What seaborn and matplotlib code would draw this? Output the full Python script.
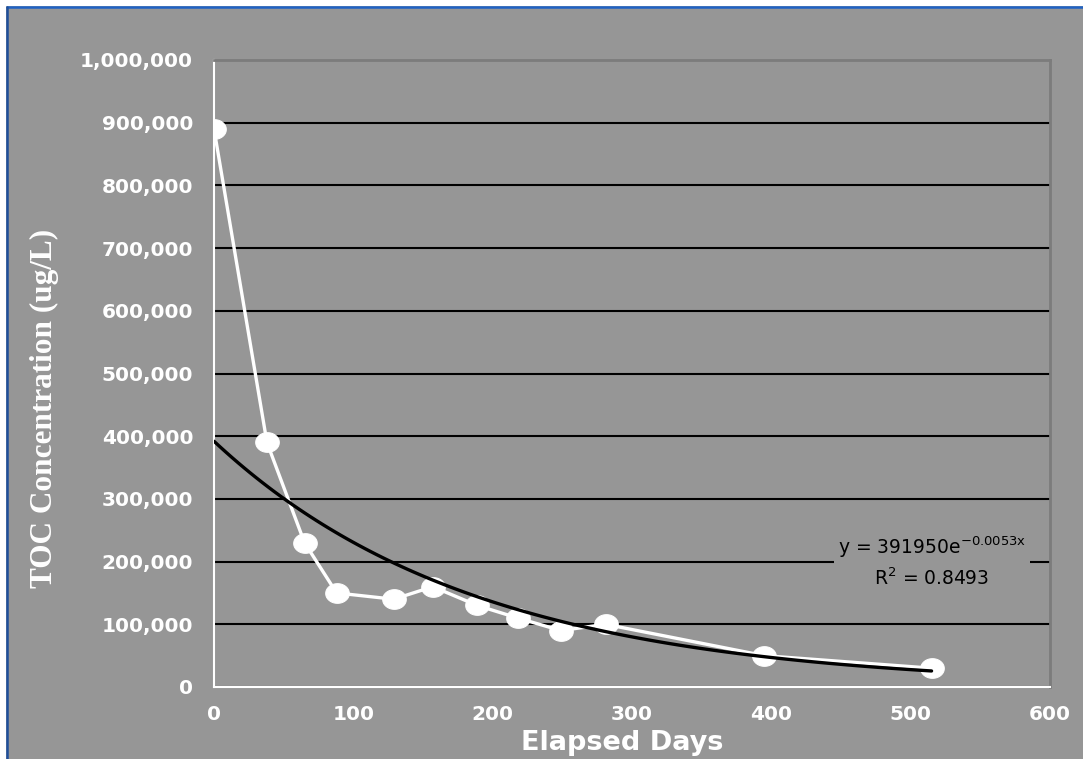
import numpy as np
import pandas as pd
import matplotlib
matplotlib.use("Agg")
import matplotlib.pyplot as plt
import seaborn as sns
from matplotlib.path import Path
from matplotlib.lines import Line2D
from matplotlib.ticker import FuncFormatter

# donnees
days = [0, 38, 65, 88, 129, 157, 189, 218, 249, 281, 395, 515]
toc = [890000, 390000, 230000, 150000, 140000, 160000, 130000, 110000, 90000, 100000, 50000, 30000]

# courbe de tendance (equation affichee sur le graphique)
fit_a = 391950
fit_b = -0.0053
fit_x = np.linspace(0, 515, 120)
fit_y = fit_a * np.exp(fit_b * fit_x)

df = pd.DataFrame({"days": days, "toc": toc})
df_fit = pd.DataFrame({"days": fit_x, "toc": fit_y})

bg = "#969696"
sns.set_style("white")
plt.rcParams["font.family"] = ["DejaVu Sans"]

fig = plt.figure(figsize=(10.83, 7.59), dpi=100, facecolor=bg)
# cadre bleu en haut et a gauche (fond blanc au-dela)
fig.add_artist(Line2D([0, 1], [1 - 3 / 759] * 2, transform=fig.transFigure,
                      color="white", linewidth=4.5, zorder=-5))
fig.add_artist(Line2D([3 / 1083] * 2, [0, 1], transform=fig.transFigure,
                      color="white", linewidth=4.5, zorder=-5))
fig.add_artist(Line2D([6.5 / 1083, 1], [1 - 7 / 759] * 2, transform=fig.transFigure,
                      color="#1f62c4", linewidth=1.8, zorder=-4))
fig.add_artist(Line2D([6.5 / 1083] * 2, [0, 1 - 7 / 759], transform=fig.transFigure,
                      color="#1f4f9a", linewidth=1.8, zorder=-4))

ax = fig.add_axes([214 / 1083, 1 - 687 / 759, 836 / 1083, 627 / 759])
ax.set_facecolor(bg)

# marqueur ovale
t = np.linspace(0, 2 * np.pi, 60)
oval = Path(np.column_stack([1.2 * np.cos(t), np.sin(t)]))

sns.lineplot(data=df, x="days", y="toc", ax=ax, color="white", linewidth=2.4,
             marker=oval, markersize=17, markeredgecolor="white",
             markerfacecolor="white", zorder=3)
sns.lineplot(data=df_fit, x="days", y="toc", ax=ax, color="black",
             linewidth=2.4, zorder=4)

ax.set_xlim(0, 600)
ax.set_ylim(0, 1000000)
ax.set_xticks(range(0, 601, 100))
ax.set_yticks(range(0, 1000001, 100000))
ax.yaxis.set_major_formatter(FuncFormatter(lambda v, p: f"{v:,.0f}"))

ax.grid(axis="y", color="black", linewidth=1.5)
ax.grid(axis="x", visible=False)
ax.set_axisbelow(True)

for s in ["left", "bottom"]:
    ax.spines[s].set_color("white")
    ax.spines[s].set_linewidth(1.5)
for s in ["top", "right"]:
    ax.spines[s].set_color("#7c7c7c")
    ax.spines[s].set_linewidth(2)

ax.tick_params(axis="both", direction="in", length=7, width=1.3, color="white",
               labelcolor="white", labelsize=14.5)
ax.tick_params(axis="y", pad=15)
ax.tick_params(axis="x", pad=13)
for lab in ax.get_xticklabels() + ax.get_yticklabels():
    lab.set_fontweight("bold")

ax.set_xlabel("Elapsed Days", color="white", fontsize=19.5, fontweight="bold")
ax.xaxis.set_label_coords(0.488, -0.068)
ax.set_ylabel("TOC Concentration (ug/L)", color="white", fontsize=22.5,
              fontweight="bold", family=["Liberation Serif", "DejaVu Serif"])
ax.yaxis.set_label_coords(-0.185, 0.445)

ax.text(0.859, 0.20, "y = 391950e$^{\\mathrm{-0.0053x}}$\nR$^2$ = 0.8493",
        transform=ax.transAxes, ha="center", va="center", fontsize=13.5,
        color="black", linespacing=1.45, zorder=5,
        bbox=dict(facecolor=bg, edgecolor="none", pad=3))

fig.savefig("out.png", dpi=100, facecolor=fig.get_facecolor())
